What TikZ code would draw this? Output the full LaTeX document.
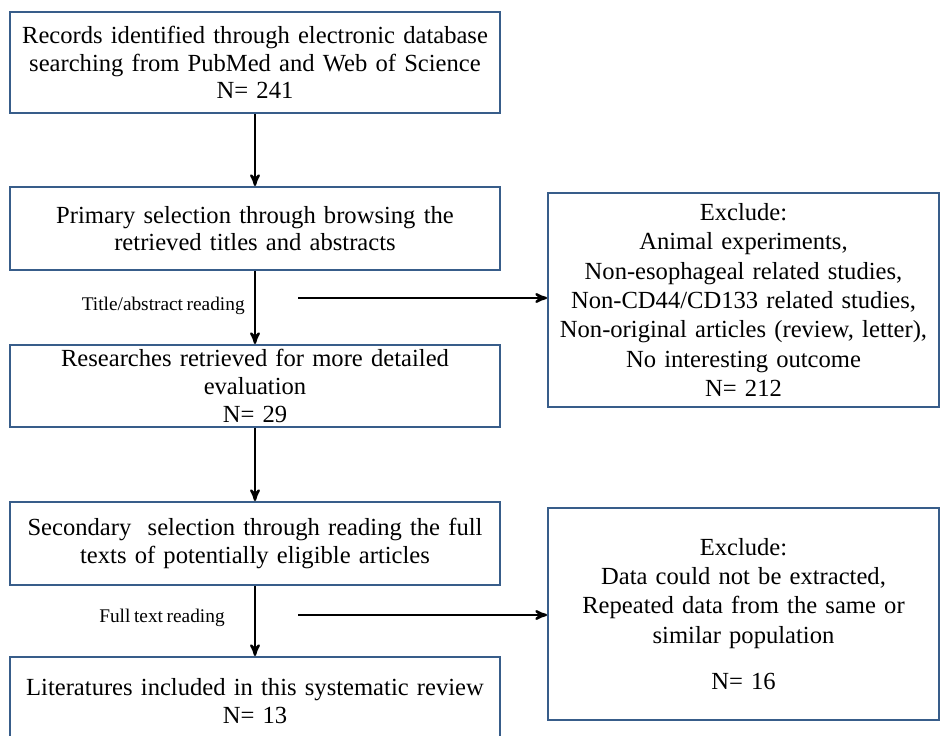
\documentclass[tikz,border=0pt]{standalone}
\usepackage{fontspec}
\setmainfont[WordSpace=0.75]{Liberation Serif}
\usetikzlibrary{positioning, arrows}
\definecolor{boxblue}{RGB}{56,93,138}
\tikzset{
	>=stealth',
	flow/.style={->, line width=1.3pt, black},
	leftbox/.style={draw=boxblue, line width=1.1pt, align=center, inner sep=0pt,
		text width=9.8cm, minimum width=9.8cm, font=\fontsize{14}{15.8}\selectfont},
	rightbox/.style={draw=boxblue, line width=1.1pt, align=center, inner sep=0pt,
		text width=7.82cm, minimum width=7.82cm, font=\fontsize{14}{16.7}\selectfont},
	steplabel/.style={font=\fontsize{11}{12}\selectfont, inner sep=0pt}}

\begin{document}
\begin{tikzpicture}[x=0.02cm, y=-0.02cm]
	\clip (0,0) rectangle (941,736);
	
	\node[leftbox, minimum height=2.02cm] (rec) at (255,62.5)
		{Records identified through electronic database\\ searching from PubMed and Web of Science\\ N= 241};
	\node[leftbox, minimum height=1.66cm] (prim) at (255,228.5)
		{Primary selection through browsing the\\ retrieved titles and abstracts};
	\node[leftbox, minimum height=1.64cm] (res) at (255,386)
		{Researches retrieved for more detailed\\ evaluation\\ N= 29};
	\node[leftbox, minimum height=1.66cm] (sec) at (255,543.5)
		{Secondary\ \ selection through reading the full\\ texts of potentially eligible articles};
	\node[leftbox, minimum height=1.76cm] (lit) at (255,701)
		{Literatures included in this systematic review\\ N= 13};
	
	\node[rightbox, minimum height=4.28cm] (ex1) at (743.5,300)
		{Exclude:\\ Animal experiments,\\ Non-esophageal related studies,\\ Non-CD44/CD133 related studies,\\ Non-original articles (review, letter),\\ No interesting outcome\\ N= 212};
	\node[rightbox, minimum height=4.24cm] (ex2) at (743.5,614)
		{Exclude:\\ Data could not be extracted,\\ Repeated data from the same or\\ similar population\\[0.34cm] N= 16};
	
	\node[steplabel, anchor=east] (lab1) at (245,306) {Title/abstract reading};
	\node[steplabel, anchor=east] (lab2) at (225,618) {Full text reading};
	
	\coordinate (s1) at (298,298);
	\coordinate (s2) at (298,615);
	
	\draw[flow] (rec) -- (prim);
	\draw[flow] (prim) -- (res);
	\draw[flow] (res) -- (sec);
	\draw[flow] (sec) -- (lit);
	\draw[flow] (s1) -- (s1 -| ex1.west);
	\draw[flow] (s2) -- (s2 -| ex2.west);
\end{tikzpicture}
\end{document}
